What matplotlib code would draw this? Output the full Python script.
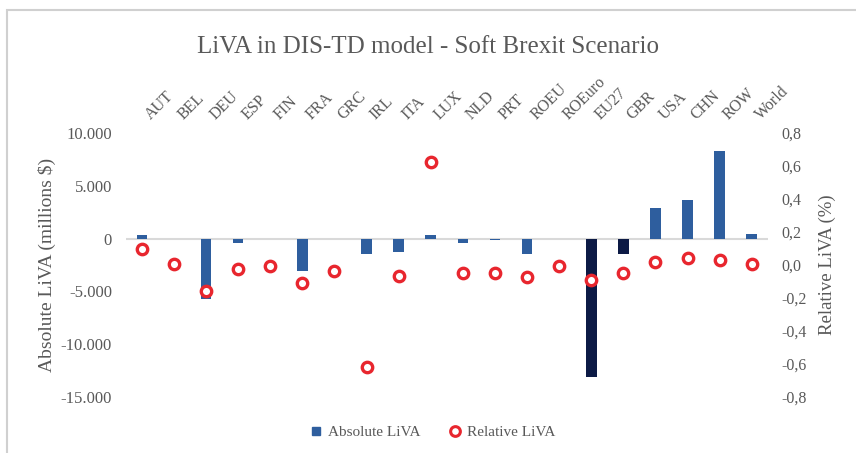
import matplotlib
matplotlib.use("Agg")
import matplotlib.pyplot as plt
from matplotlib.lines import Line2D
from matplotlib.patches import Rectangle
from matplotlib.transforms import ScaledTranslation
import numpy as np

# data
regions = ["AUT", "BEL", "DEU", "ESP", "FIN", "FRA", "GRC", "IRL", "ITA", "LUX",
           "NLD", "PRT", "ROEU", "ROEuro", "EU27", "GBR", "USA", "CHN", "ROW", "World"]
absolute_liva = [300, 0, -5700, -400, 0, -3050, -50, -1450, -1300, 300,
                 -400, -100, -1450, 0, -13150, -1450, 2900, 3700, 8300, 400]
relative_liva = [0.095, 0.004, -0.16, -0.024, -0.004, -0.11, -0.036, -0.62, -0.065, 0.626,
                 -0.046, -0.05, -0.07, -0.006, -0.09, -0.05, 0.02, 0.044, 0.03, 0.004]
left_ticks = [10000, 5000, 0, -5000, -10000, -15000]
left_labels = ["10.000", "5.000", "0", "-5.000", "-10.000", "-15.000"]
right_ticks = [0.8, 0.6, 0.4, 0.2, 0.0, -0.2, -0.4, -0.6, -0.8]
right_labels = ["0,8", "0,6", "0,4", "0,2", "0,0", "-0,2", "-0,4", "-0,6", "-0,8"]
dark_regions = ["EU27", "GBR"]

plt.rcParams['font.family'] = ['Liberation Serif', 'DejaVu Serif']
grey = "#595959"
blue = "#2e5e9e"
navy = "#0c1a45"
red = "#e8262e"

fig = plt.figure(figsize=(8.56, 4.53), dpi=100)
ax = fig.add_axes([0.147, 0.1236, 0.75, 0.5828])
ax2 = ax.twinx()

x = np.arange(len(regions))
cols = [navy if r in dark_regions else blue for r in regions]
ax.bar(x, absolute_liva, width=0.33, color=cols, zorder=2)
ax.axhline(0, color="#d9d9d9", lw=1.5, zorder=1)
ax.set_xlim(-0.5, len(regions) - 0.5)
ax.set_ylim(-15000, 10000)
ax.set_yticks(left_ticks)
ax.set_yticklabels(left_labels)
ax.set_xticks(x)
ax.set_xticklabels(regions, rotation=45, ha="left", va="bottom", rotation_mode="anchor")
ax.tick_params(axis="x", bottom=False, top=False, labelbottom=False, labeltop=True,
               pad=4, labelsize=11.5, labelcolor=grey)
shift = ScaledTranslation(0.12, 0, fig.dpi_scale_trans)
for lbl in ax.get_xticklabels():
    lbl.set_transform(lbl.get_transform() + shift)
ax.tick_params(axis="y", length=0, labelsize=12, labelcolor=grey, pad=10)
ax.set_ylabel("Absolute LiVA (millions $)", fontsize=14, color=grey, labelpad=3)

ax2.plot(x, relative_liva, "o", ms=7.5, mfc="white", mec=red, mew=2.4, zorder=3)
ax2.set_ylim(-0.8, 0.8)
ax2.set_yticks(right_ticks)
ax2.set_yticklabels(right_labels)
ax2.tick_params(axis="y", length=0, labelsize=11.5, labelcolor=grey, pad=10)
ax2.set_ylabel("Relative LiVA (%)", fontsize=13.5, color=grey, labelpad=8)

for a in (ax, ax2):
    for s in a.spines.values():
        s.set_visible(False)

fig.text(0.5, 0.897, "LiVA in DIS-TD model - Soft Brexit Scenario", ha="center", va="center",
         fontsize=18, color=grey)

handles = [Line2D([], [], ls="none", marker="s", ms=6, color=blue),
           Line2D([], [], ls="none", marker="o", ms=7, mfc="white", mec=red, mew=2.2)]
fig.legend(handles, ["Absolute LiVA", "Relative LiVA"], loc="center", ncol=2,
           bbox_to_anchor=(0.5, 0.045), frameon=False, fontsize=11, labelcolor=grey,
           handletextpad=-0.2, columnspacing=1.2)

fig.patches.append(Rectangle((0.008, -0.01), 1.0, 0.987, transform=fig.transFigure,
                             fill=False, ec="#d0d0d0", lw=1.5))

fig.savefig("out.png", dpi=100)
